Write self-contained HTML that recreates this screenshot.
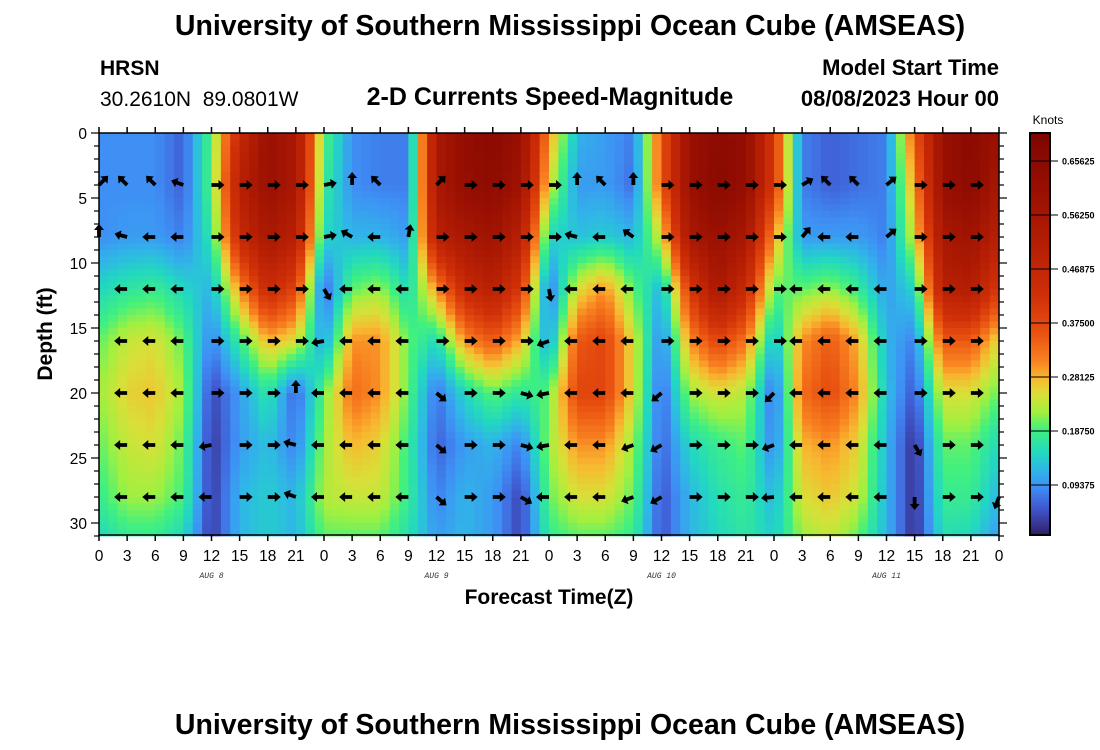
<!DOCTYPE html>
<html><head><meta charset="utf-8"><style>
body{margin:0;background:#fff;width:1100px;height:750px;overflow:hidden;font-family:"Liberation Sans",sans-serif}
svg{display:block}
</style></head><body>
<svg id="chart" width="1100" height="750" xmlns="http://www.w3.org/2000/svg" font-family="Liberation Sans, sans-serif">
<text x="570" y="35" text-anchor="middle" font-size="28.5" font-weight="bold">University of Southern Mississippi Ocean Cube (AMSEAS)</text>
<text x="100" y="75" font-size="21" font-weight="bold">HRSN</text>
<text x="100" y="106" font-size="21" xml:space="preserve">30.2610N  89.0801W</text>
<text x="550" y="105" text-anchor="middle" font-size="25" font-weight="bold">2-D Currents Speed-Magnitude</text>
<text x="999" y="75" text-anchor="end" font-size="22" font-weight="bold">Model Start Time</text>
<text x="999" y="106" text-anchor="end" font-size="22" font-weight="bold">08/08/2023 Hour 00</text>
<g id="heat"></g>
<g id="arrows"></g>
<rect x="99" y="133" width="900" height="402" fill="none" stroke="#000" stroke-width="1.5"/>
<g id="axes"></g>
<text transform="translate(52,334) rotate(-90)" text-anchor="middle" font-size="21" font-weight="bold">Depth (ft)</text>
<text x="549" y="604" text-anchor="middle" font-size="21" font-weight="bold">Forecast Time(Z)</text>
<g id="cbar"></g>
<text x="1048" y="124" text-anchor="middle" font-size="12">Knots</text>
<text x="570" y="734" text-anchor="middle" font-size="28.5" font-weight="bold">University of Southern Mississippi Ocean Cube (AMSEAS)</text>
</svg>
<script>
const hours=[0,3,6,9,12,15,18,21,24,27,30,33,36,39,42,45,48,51,54,57,60,63,66,69,72,75,78,81,84,87,90,93,96];
const depths=[0,4,8,12,16,20,24,28,31];
const speed=[
[0.09,0.09,0.09,0.15,0.2,0.22,0.2,0.18,0.15],
[0.09,0.09,0.1,0.17,0.24,0.26,0.24,0.22,0.18],
[0.09,0.09,0.1,0.18,0.25,0.27,0.25,0.22,0.18],
[0.06,0.06,0.08,0.15,0.2,0.22,0.2,0.19,0.15],
[0.2,0.2,0.17,0.12,0.08,0.04,0.03,0.03,0.03],
[0.45,0.5,0.45,0.3,0.18,0.1,0.1,0.12,0.12],
[0.6,0.6,0.55,0.45,0.28,0.17,0.13,0.14,0.14],
[0.55,0.55,0.5,0.38,0.25,0.06,0.08,0.12,0.12],
[0.2,0.18,0.15,0.06,0.1,0.2,0.22,0.23,0.2],
[0.09,0.09,0.12,0.2,0.3,0.33,0.28,0.24,0.2],
[0.08,0.08,0.12,0.22,0.3,0.3,0.26,0.24,0.2],
[0.08,0.08,0.1,0.15,0.2,0.2,0.18,0.18,0.16],
[0.55,0.55,0.5,0.3,0.15,0.07,0.06,0.08,0.1],
[0.62,0.62,0.55,0.45,0.3,0.15,0.1,0.12,0.12],
[0.66,0.64,0.58,0.5,0.35,0.2,0.12,0.1,0.1],
[0.6,0.58,0.5,0.4,0.28,0.17,0.08,0.04,0.04],
[0.3,0.25,0.15,0.07,0.1,0.2,0.22,0.2,0.18],
[0.12,0.1,0.13,0.25,0.35,0.38,0.3,0.25,0.2],
[0.1,0.1,0.14,0.3,0.38,0.38,0.3,0.25,0.2],
[0.08,0.07,0.12,0.2,0.25,0.25,0.22,0.2,0.18],
[0.35,0.35,0.25,0.12,0.08,0.06,0.06,0.05,0.05],
[0.6,0.6,0.55,0.4,0.3,0.22,0.15,0.12,0.12],
[0.65,0.66,0.6,0.55,0.38,0.25,0.18,0.16,0.15],
[0.62,0.62,0.55,0.45,0.32,0.23,0.2,0.18,0.17],
[0.4,0.4,0.3,0.2,0.12,0.06,0.08,0.12,0.14],
[0.08,0.08,0.1,0.2,0.3,0.33,0.28,0.25,0.22],
[0.06,0.06,0.1,0.22,0.35,0.37,0.3,0.27,0.24],
[0.07,0.07,0.1,0.18,0.28,0.3,0.26,0.24,0.2],
[0.08,0.08,0.08,0.1,0.12,0.13,0.12,0.12,0.12],
[0.35,0.3,0.25,0.15,0.08,0.05,0.02,0.02,0.02],
[0.6,0.6,0.55,0.5,0.35,0.25,0.2,0.18,0.16],
[0.66,0.65,0.58,0.52,0.35,0.25,0.2,0.18,0.15],
[0.6,0.55,0.5,0.4,0.25,0.2,0.15,0.12,0.1]
];
const arrowDepths=[4,8,12,16,20,24,28];
// direction per arrow row, one entry per 3-hour step (k=0..32); angle in degrees (0=east, 90=north), null=none
const dir4 =[45,135,135,160,0,0,0,0,10,90,135,null,45,0,0,0,0,90,135,90,0,0,0,0,0,30,135,135,40,0,0,0,null];
const dir8 =[90,165,180,180,0,0,0,0,10,150,180,80,0,0,0,0,0,165,180,145,0,0,0,0,0,50,180,180,40,0,0,0,null];
const dir12=[null,180,180,180,0,0,0,0,-60,180,180,180,0,0,0,0,-80,180,180,180,0,0,0,0,0,180,180,180,180,0,0,0,null];
const dir16=[null,180,180,180,0,0,0,0,190,180,180,180,0,0,0,0,200,180,180,180,0,0,0,0,0,180,180,180,180,0,0,0,null];
const dir20=[null,180,180,180,0,0,0,90,180,180,180,180,-40,0,0,-15,190,180,180,180,-140,0,0,0,-135,180,180,180,180,0,0,0,null];
const dir24=[null,180,180,180,190,0,0,165,180,180,180,180,-40,0,0,-15,190,180,180,200,-150,0,0,0,-160,180,180,180,180,-60,0,0,null];
const dir28=[null,180,180,180,180,0,0,160,180,180,180,180,-40,0,0,-30,180,180,180,200,-150,0,0,0,185,180,180,180,180,-90,0,0,-110];
const arrowDirs=[dir4,dir8,dir12,dir16,dir20,dir24,dir28];
const xTicks=[0,3,6,9,12,15,18,21,0,3,6,9,12,15,18,21,0,3,6,9,12,15,18,21,0,3,6,9,12,15,18,21,0];
const yTicks=[0,5,10,15,20,25,30];
const dayLabels=["AUG 8","AUG 9","AUG 10","AUG 11"];
const dayHours=[12,36,60,84];
const cbTicks=[0.09375,0.1875,0.28125,0.375,0.46875,0.5625,0.65625];

const NS="http://www.w3.org/2000/svg";
const X0=99,X1=999,Y0=133;
const x=h=>X0+h*(X1-X0)/96;
const y=d=>Y0+d*13;
const cy=v=>485-(v-0.09375)/0.09375*54;
const stops=[[0,[40,24,80]],[0.03,[58,58,154]],[0.06,[64,96,216]],[0.09,[63,143,245]],[0.12,[48,181,232]],[0.15,[34,216,192]],[0.19,[64,240,128]],[0.22,[160,240,64]],[0.25,[216,224,56]],[0.28,[248,184,48]],[0.31,[248,128,32]],[0.36,[232,80,16]],[0.42,[208,48,8]],[0.5,[184,32,4]],[0.6,[154,16,2]],[0.72,[122,4,0]]];
function col(v){
  if(v<=stops[0][0])return `rgb(${stops[0][1]})`;
  for(let i=1;i<stops.length;i++){if(v<=stops[i][0]){const a=stops[i-1],b=stops[i],t=(v-a[0])/(b[0]-a[0]);
    return `rgb(${a[1].map((c,j)=>Math.round(c+(b[1][j]-c)*t)).join(',')})`;}}
  return `rgb(${stops[stops.length-1][1]})`;
}
function mk(tag,attrs,parent){const e=document.createElementNS(NS,tag);for(const k in attrs)e.setAttribute(k,attrs[k]);parent.appendChild(e);return e;}
function seg(arr,v){for(let i=0;i<arr.length-1;i++){if(v<=arr[i+1])return [i,(v-arr[i])/(arr[i+1]-arr[i])];}return [arr.length-2,1];}
function sample(h,d){const [i,tx]=seg(hours,h),[j,ty]=seg(depths,d);
  const a=speed[i][j],b=speed[i+1][j],c=speed[i][j+1],e=speed[i+1][j+1];
  return (a*(1-tx)+b*tx)*(1-ty)+(c*(1-tx)+e*tx)*ty;}
const heat=document.getElementById('heat');
for(let h=0;h<96;h++){for(let d=0;d<31;d+=0.5){
  const v=sample(h+0.5,d+0.25);
  const r=mk('rect',{x:x(h).toFixed(2),y:y(d).toFixed(2),width:(x(h+1)-x(h)+0.4).toFixed(2),height:6.9,fill:col(v)},heat);
  
  
}}
const ag=document.getElementById('arrows');
arrowDirs.forEach((row,ri)=>{row.forEach((a,k)=>{if(a===null)return;
  const px=x(k*3),py=y(arrowDepths[ri]);
  const p=mk('path',{d:'M0,-1.9 L7,-1.9 L7,-5 L13,0 L7,5 L7,1.9 L0,1.9 Z',fill:'#000',transform:`translate(${px},${py}) rotate(${-a})`},ag);
  
  
});});
const ax=document.getElementById('axes');
xTicks.forEach((t,i)=>{const px=x(i*3);
  mk('line',{x1:px,x2:px,y1:Y0-6,y2:Y0,stroke:'#000','stroke-width':1.5},ax);
  mk('line',{x1:px,x2:px,y1:535,y2:541,stroke:'#000','stroke-width':1.5},ax);
  const tx=mk('text',{x:px,y:561,'text-anchor':'middle','font-size':15.5},ax);tx.textContent=t;
  
  
});
dayLabels.forEach((l,i)=>{const t=mk('text',{x:x(dayHours[i]),y:578,'text-anchor':'middle','font-size':8,'font-style':'italic','font-family':'Liberation Mono, monospace',fill:'#333'},ax);t.textContent=l;
  
  
});
for(let d=0;d<=31;d++){const py=y(d),big=d%5===0;
  mk('line',{x1:X0-(big?8:5),x2:X0,y1:py,y2:py,stroke:'#000','stroke-width':1.2},ax);
  mk('line',{x1:X1,x2:X1+(big?8:5),y1:py,y2:py,stroke:'#000','stroke-width':1.2},ax);}
yTicks.forEach(d=>{const t=mk('text',{x:87,y:y(d)+6,'text-anchor':'end','font-size':15.5},ax);t.textContent=d;
  
  
});
const cb=document.getElementById('cbar');
for(let yy=133;yy<535;yy+=2){const v=0.09375+(485-yy-1)/54*0.09375;mk('rect',{x:1030,y:yy,width:20,height:2.3,fill:col(v)},cb);}
mk('rect',{x:1030,y:133,width:20,height:402,fill:'none',stroke:'#000','stroke-width':2},cb);
cbTicks.forEach(v=>{const py=cy(v);mk('line',{x1:1030,x2:1058,y1:py,y2:py,stroke:'#000','stroke-width':1},cb);
  const t=mk('text',{x:1062,y:py+3.5,'font-size':9,'font-weight':'bold'},cb);t.textContent=v.toFixed(5);
  
  
});
</script>
</body></html>
